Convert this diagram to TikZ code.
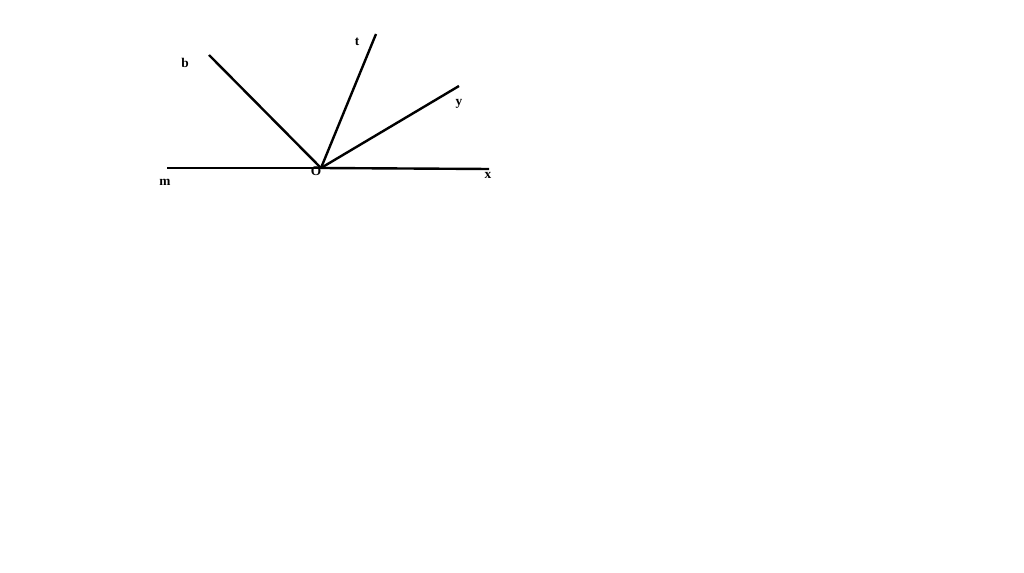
\documentclass[tikz,border=0pt]{standalone}
\usepackage{fontspec}
\setmainfont{Liberation Serif}
\begin{document}
\begin{tikzpicture}[x=0.75pt,y=-0.75pt,line width=1.8pt,
    lbl/.style={font=\fontsize{10}{12}\selectfont\bfseries,inner sep=0pt}]
    \useasboundingbox (0,0) rectangle (1024,573);
    \coordinate (O) at (321,168);
    \coordinate (M) at (167,168);
    \coordinate (X) at (489,169);
    \coordinate (B) at (209,55);
    \coordinate (T) at (376,34);
    \coordinate (Y) at (459,86);
    \draw (M)--(O);
    \draw (O)--(X);
    \draw (B)--(O);
    \draw (O)--(T);
    \draw (O)--(Y);
    \node[lbl] (lb) at (185,63) {b};
    \node[lbl] (lt) at (357,42) {t};
    \node[lbl] (ly) at (459,104) {y};
    \node[lbl] (lm) at (165,182) {m};
    \node[lbl] (lx) at (488,175) {x};
    \node[lbl] (lo) at (316,171) {O};
  \end{tikzpicture}
\end{document}
